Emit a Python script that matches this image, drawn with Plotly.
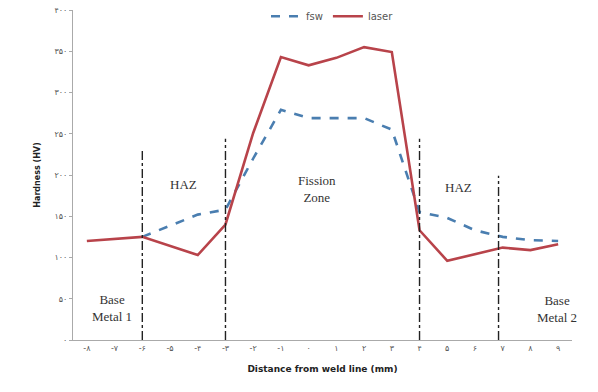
import plotly.graph_objects as go

# x positions (mm) and hardness values (HV)
laser_x = [-8, -6, -4, -3, -2, -1, 0, 1, 2, 3, 4, 5, 7, 8, 9]
laser_y = [120, 125, 103, 140, 251, 343, 333, 342, 355, 349, 133, 96, 112, 109, 116]

fsw_x = [-6, -4, -3, -2, -1, 0, 1, 2, 3, 4, 5, 6, 7, 8, 9]
fsw_y = [125, 152, 158, 220, 279, 269, 269, 269, 255, 155, 148, 133, 125, 121, 120]

fa = "۰۱۲۳۴۵۶۷۸۹"
def fa_num(n):
    s = "".join(fa[int(c)] for c in str(abs(n)))
    return ("-" + s) if n < 0 else s

x_ticks = list(range(-8, 10))
x_labels = [fa_num(v) for v in x_ticks]
y_ticks = list(range(0, 401, 50))
y_labels = [fa_num(v) for v in y_ticks]

# zone boundary lines (x position, top value)
zone_x = [-6, -3, 4, 6.85]
zone_top = [232, 244, 244, 199]

fig = go.Figure()
fig.add_trace(go.Scatter(x=fsw_x, y=fsw_y, mode="lines", name="fsw",
                         line=dict(color="#4a7eb0", width=2.6, dash="dash")))
fig.add_trace(go.Scatter(x=laser_x, y=laser_y, mode="lines", name="laser",
                         line=dict(color="#b8434a", width=2.6)))

for zx, zt in zip(zone_x, zone_top):
    fig.add_shape(type="line", x0=zx, x1=zx, y0=0, y1=zt, xref="x", yref="y",
                  line=dict(color="#222222", width=1.4, dash="dashdot"))

serif = "Liberation Serif, Times New Roman, serif"
ann = [
    (-4.5, 188, "HAZ"),
    (0.3, 183, "Fission<br>Zone"),
    (5.4, 185, "HAZ"),
    (-7.1, 39, "Base<br>Metal 1"),
    (8.95, 38, "Base<br>Metal 2"),
]
for ax_, ay_, t in ann:
    fig.add_annotation(x=ax_, y=ay_, text=t, showarrow=False,
                       font=dict(family=serif, size=13, color="#333333"))

fig.update_layout(
    width=598, height=392,
    margin=dict(l=73, r=26, t=10, b=52, autoexpand=False),
    paper_bgcolor="white", plot_bgcolor="white",
    font=dict(family="DejaVu Sans, Noto Sans, sans-serif", color="#555555"),
    showlegend=True,
    legend=dict(orientation="h", x=0.52, xanchor="center", y=1.025, yanchor="top",
                font=dict(size=10, color="#555555"), bgcolor="rgba(0,0,0,0)",
                tracegroupgap=0),
)
fig.update_xaxes(
    range=[-8.5, 9.5], tickmode="array", tickvals=x_ticks, ticktext=x_labels,
    showgrid=False, zeroline=False, showline=True, linecolor="#aaaaaa", linewidth=1,
    ticks="", tickfont=dict(size=8, color="#555555"),
    title=dict(text="<b>Distance from weld line (mm)</b>", font=dict(size=9, color="#222222"),
               standoff=14),
)
fig.update_yaxes(
    range=[0, 400], tickmode="array", tickvals=y_ticks, ticktext=y_labels,
    showgrid=False, zeroline=False, showline=True, linecolor="#aaaaaa", linewidth=1,
    ticks="outside", ticklen=3, tickcolor="#aaaaaa", tickfont=dict(size=8, color="#555555"),
    title=dict(text="<b>Hardness (HV)</b>", font=dict(size=8, color="#222222"), standoff=12),
)

fig.write_html("out.html", config={"displayModeBar": False},
               post_script="document.body.style.margin='0';")
